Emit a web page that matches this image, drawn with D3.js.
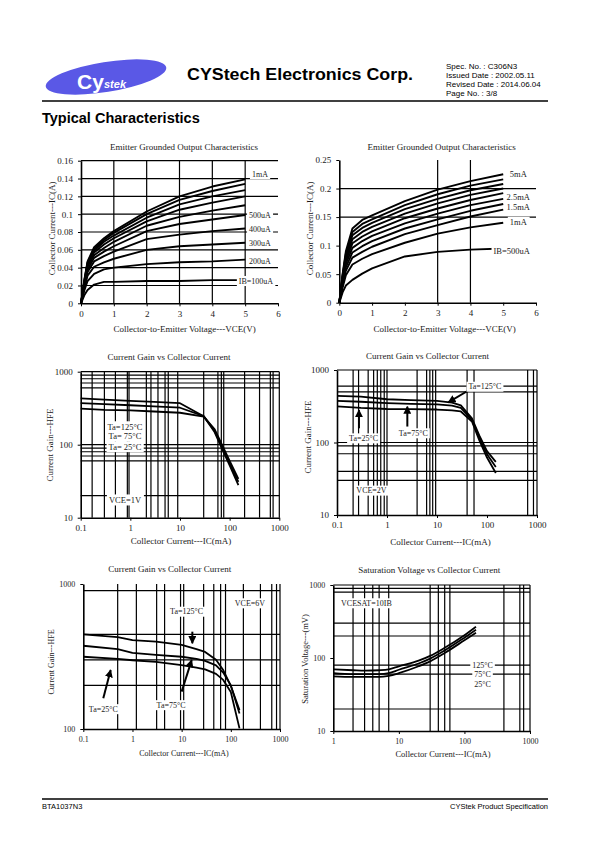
<!DOCTYPE html>
<html><head><meta charset="utf-8">
<script src="https://cdn.jsdelivr.net/npm/d3@7"></script>
<style>
body{margin:0;background:#fff}
svg{display:block}
text{font-family:"Liberation Serif","Times New Roman",serif;fill:#1a1a1a}
.sans{font-family:"Liberation Sans",Arial,sans-serif;fill:#000}
</style>
</head><body>
<svg id="page" width="595" height="842"></svg>
<script>
// ---------------- DATA ----------------
// Chart 1: Emitter grounded output characteristics (IB = 100uA .. 1mA)
const vceOut1 = [0, 0.1, 0.2, 0.4, 0.7, 1, 2, 3, 4, 5];
const ibNames1 = ["100uA","200uA","300uA","400uA","500uA","600uA","700uA","800uA","900uA","1mA"];
const icOut1 = [
 [0,0.009,0.015,0.021,0.024,0.024,0.025,0.025,0.026,0.026],
 [0,0.014,0.025,0.033,0.038,0.040,0.044,0.046,0.047,0.049],
 [0,0.017,0.031,0.041,0.046,0.050,0.060,0.064,0.066,0.068],
 [0,0.019,0.035,0.047,0.053,0.058,0.072,0.077,0.081,0.084],
 [0,0.021,0.038,0.051,0.058,0.064,0.081,0.089,0.094,0.099],
 [0,0.022,0.041,0.054,0.062,0.069,0.087,0.097,0.104,0.110],
 [0,0.023,0.043,0.057,0.066,0.073,0.092,0.105,0.113,0.120],
 [0,0.024,0.045,0.059,0.069,0.076,0.096,0.111,0.120,0.127],
 [0,0.025,0.046,0.061,0.071,0.079,0.100,0.116,0.126,0.134],
 [0,0.026,0.047,0.063,0.073,0.081,0.103,0.120,0.131,0.139]];
const xTicks1 = [0,1,2,3,4,5,6];
const yTicks1 = [0,0.02,0.04,0.06,0.08,0.1,0.12,0.14,0.16];
const gridX1 = [1,2,3,4,5];
const gridY1 = [0.02,0.04,0.06,0.08,0.1,0.12,0.14,0.16];
const labels1 = [
 {t:"1mA",x:5.45,y:0.145},{t:"500uA",x:5.45,y:0.098},{t:"400uA",x:5.45,y:0.083},
 {t:"300uA",x:5.45,y:0.067},{t:"200uA",x:5.45,y:0.047},{t:"IB=100uA",x:5.33,y:0.025}];

// Chart 2: Emitter grounded output characteristics (IB = 500uA .. 5mA)
const vceOut2 = [0, 0.1, 0.2, 0.4, 0.7, 1, 2, 3, 4, 5];
const ibNames2 = ["500uA","1mA","1.5mA","2mA","2.5mA","3mA","3.5mA","4mA","4.5mA","5mA"];
const icOut2 = [
 [0,0.018,0.030,0.040,0.051,0.060,0.081,0.089,0.093,0.095],
 [0,0.026,0.048,0.067,0.077,0.085,0.105,0.121,0.132,0.140],
 [0,0.031,0.056,0.079,0.089,0.098,0.120,0.136,0.151,0.163],
 [0,0.035,0.062,0.088,0.099,0.108,0.130,0.146,0.161,0.173],
 [0,0.038,0.068,0.096,0.108,0.117,0.139,0.156,0.171,0.182],
 [0,0.041,0.073,0.104,0.116,0.125,0.148,0.165,0.180,0.192],
 [0,0.044,0.078,0.111,0.124,0.133,0.156,0.174,0.189,0.200],
 [0,0.046,0.082,0.118,0.131,0.140,0.164,0.182,0.197,0.208],
 [0,0.048,0.086,0.124,0.138,0.146,0.171,0.190,0.205,0.216],
 [0,0.050,0.090,0.130,0.145,0.153,0.178,0.198,0.213,0.225]];
const xTicks2 = [0,1,2,3,4,5,6];
const yTicks2 = [0,0.05,0.1,0.15,0.2,0.25];
const gridX2 = [3,4];
const gridY2 = [0.15,0.2];
const labels2 = [
 {t:"5mA",x:5.46,y:0.225},{t:"2.5mA",x:5.46,y:0.186},{t:"1.5mA",x:5.46,y:0.168},
 {t:"1mA",x:5.46,y:0.141},{t:"IB=500uA",x:5.26,y:0.091}];

// Chart 3: HFE vs IC, VCE=1V
const ic3 = [0.1, 0.3, 1, 3, 10, 30, 50, 70, 100, 150];
const hfe3_125 = [430, 415, 398, 385, 370, 245, 148, 88, 52, 28];
const hfe3_75  = [372, 360, 347, 335, 321, 246, 155, 94, 56, 31];
const hfe3_25  = [313, 300, 296, 285, 274, 243, 162, 100, 60, 34];
const gridX3 = [0.17,0.3,0.5,0.87,0.94,2.1,2.6,3.6,5,5.8,9,30,58,68,76,200,400,660,750,1000];
const gridY3 = [1000,900,800,700,600,100,90,80,70,60,20];
const labels3 = [
 {t:"Ta=125°C",x:0.78,y:176},{t:"Ta= 75°C",x:0.78,y:133},{t:"Ta= 25°C",x:0.78,y:94},
 {t:"VCE=1V",x:0.78,y:17.5}];

// Chart 4: HFE vs IC, VCE=2V
const ic4 = [0.1, 0.3, 1, 3, 10, 20, 30, 50, 70, 100, 150];
const hfe4_125 = [440, 430, 395, 385, 375, 355, 325, 215, 125, 76, 54];
const hfe4_75  = [375, 365, 350, 340, 335, 322, 300, 205, 116, 69, 46];
const hfe4_25  = [315, 300, 290, 288, 285, 278, 268, 195, 108, 62, 38];
const gridX4 = [0.21,0.27,0.42,0.54,0.64,0.75,0.88,1,4,6.2,7.2,8.2,9.4,40,55,650,850,1000];
const gridY4 = [1000,600,500,100,90,70,40,30];
const labels4 = [
 {t:"Ta=125°C",x:91,y:588},{t:"Ta=25°C",x:0.34,y:114},{t:"Ta=75°C",x:3.36,y:134},
 {t:"VCE=2V",x:0.49,y:21.7}];
const arrows4 = [
 {x1:44,y1:530,x2:16.8,y2:358},{x1:0.275,y1:157,x2:0.275,y2:281},{x1:2.55,y1:166,x2:2.55,y2:312}];

// Chart 5: HFE vs IC, VCE=6V
const ic5 = [0.1, 0.5, 1, 3, 10, 20, 30, 50, 70, 100, 150];
const hfe5_125 = [450, 430, 410, 400, 380, 355, 340, 300, 255, 198, 135];
const hfe5_75  = [375, 355, 335, 325, 315, 305, 295, 275, 245, 200, 128];
const hfe5_25  = [315, 305, 298, 290, 276, 265, 258, 240, 218, 180, 101];
const gridX5 = [0.5,1.2,3.1,4.5,9.5,11,28,45,62,78,180,400,680,850,1000];
const gridY5 = [900,450,300,200];
const labels5 = [
 {t:"Ta=125°C",x:12.6,y:644},{t:"VCE=6V",x:245,y:736},{t:"Ta=25°C",x:0.255,y:137},
 {t:"Ta=75°C",x:6.1,y:146}];
const arrows5 = [
 {x1:16.5,y1:469,x2:16.5,y2:390},{x1:0.255,y1:163,x2:0.36,y2:255},{x1:10,y1:181,x2:16,y2:299}];

// Chart 6: VCE(sat) vs IC
const ic6 = [1, 2, 3, 5, 7, 10, 20, 30, 50, 100, 150];
const vsat6_125 = [70, 68, 67, 68, 70, 77, 92, 107, 138, 205, 268];
const vsat6_75  = [62, 60, 60, 60, 62, 69, 84, 98, 127, 190, 243];
const vsat6_25  = [56, 55, 55, 55, 57, 62, 77, 90, 117, 175, 222];
const gridX6 = [2,3,4,5,7,30,40,50,60,400,700,800,1000];
const gridY6 = [1000,900,800,300,200,80,60,20];
const labels6 = [
 {t:"VCESAT=10IB",x:3.2,y:562},{t:"125°C",x:189,y:80},{t:"75°C",x:189,y:60},{t:"25°C",x:189,y:44}];

const logTicksX = [0.1,1,10,100,1000];
const logTicksX6 = [1,10,100,1000];
const logTicksY = [10,100,1000];
const logTicksY5 = [100,1000];

// ---------------- DRAW ----------------
const svg = d3.select("#page");
svg.append("rect").attr("width",595).attr("height",842).attr("fill","#fff");
const defs = svg.append("defs");
defs.append("marker").attr("id","ah").attr("viewBox","0 0 10 10").attr("refX",9).attr("refY",5)
  .attr("markerWidth",4).attr("markerHeight",4).attr("orient","auto")
  .append("path").attr("d","M0,0 L10,5 L0,10 z").attr("fill","#000");

// Header
const logo = svg.append("g");
logo.append("ellipse").attr("cx",106).attr("cy",77).attr("rx",61).attr("ry",15)
  .attr("transform","rotate(-9 106 77)").attr("fill","#5a58e6");
logo.append("text").attr("class","sans").attr("x",77).attr("y",89).attr("font-size",21)
  .attr("font-weight","bold").style("fill","#fff").text("Cy");
logo.append("text").attr("class","sans").attr("x",104).attr("y",88).attr("font-size",11)
  .attr("font-weight","bold").attr("font-style","italic").style("fill","#fff").text("stek");
svg.append("text").attr("class","sans").attr("x",187).attr("y",80).attr("font-size",17)
  .attr("font-weight","bold").attr("textLength",226).attr("lengthAdjust","spacingAndGlyphs")
  .text("CYStech Electronics Corp.");
const specLines = ["Spec. No. : C306N3","Issued Date : 2002.05.11","Revised Date : 2014.06.04","Page No. : 3/8"];
specLines.forEach((s,i)=>svg.append("text").attr("class","sans").attr("x",446).attr("y",68.5+i*9.3)
  .attr("font-size",8).text(s));
svg.append("line").attr("x1",42).attr("x2",548).attr("y1",101).attr("y2",101).attr("stroke","#000").attr("stroke-width",1.3);
svg.append("text").attr("class","sans").attr("x",42).attr("y",123).attr("font-size",14.5)
  .attr("font-weight","bold").text("Typical Characteristics");
svg.append("line").attr("x1",42).attr("x2",548).attr("y1",799).attr("y2",799).attr("stroke","#000").attr("stroke-width",1.3);
svg.append("text").attr("class","sans").attr("x",42).attr("y",809).attr("font-size",7.5).text("BTA1037N3");
svg.append("text").attr("class","sans").attr("x",548).attr("y",809).attr("font-size",7.5)
  .attr("text-anchor","end").text("CYStek Product Specification");

function fmtNum(d){ return String(+d.toFixed(3)); }

function chart(c){
  const g = svg.append("g");
  const x = c.x, y = c.y;
  const [xl, xr] = x.range(), [yb, yt] = y.range();
  // gridlines
  g.selectAll(null).data(c.gridX).enter().append("line")
    .attr("x1",d=>x(d)).attr("x2",d=>x(d)).attr("y1",yb).attr("y2",yt)
    .attr("stroke","#000").attr("stroke-width",1.2);
  g.selectAll(null).data(c.gridY).enter().append("line")
    .attr("x1",xl).attr("x2",xr).attr("y1",d=>y(d)).attr("y2",d=>y(d))
    .attr("stroke","#000").attr("stroke-width",1.2);
  // axes
  const ax = d3.axisBottom(x).tickValues(c.xTicks).tickSize(3).tickSizeOuter(0).tickPadding(4).tickFormat(c.xFmt||fmtNum);
  const ay = d3.axisLeft(y).tickValues(c.yTicks).tickSize(3).tickSizeOuter(0).tickPadding(5).tickFormat(c.yFmt||fmtNum);
  const gx = g.append("g").attr("transform",`translate(0,${yb})`).call(ax);
  const gy = g.append("g").attr("transform",`translate(${xl},0)`).call(ay);
  [gx,gy].forEach(a=>{
    a.attr("font-family",null).attr("font-size",null);
    a.select(".domain").attr("stroke","#000").attr("stroke-width",1.6);
    a.selectAll(".tick line").attr("stroke","#000").attr("stroke-width",1);
    a.selectAll(".tick text").attr("font-size",c.tickFs||9).style("font-family",'"Liberation Serif",serif').style("fill","#1a1a1a");
  });
  // curves
  const line = d3.line().x(d=>x(d[0])).y(d=>y(d[1])).curve(c.curve||d3.curveLinear);
  c.series.forEach(s=>g.append("path").attr("d",line(s)).attr("fill","none")
     .attr("stroke","#000").attr("stroke-width",c.sw||1.9).attr("stroke-linejoin","round"));
  // arrows
  (c.arrows||[]).forEach(a=>g.append("line").attr("x1",x(a.x1)).attr("y1",y(a.y1)).attr("x2",x(a.x2)).attr("y2",y(a.y2))
     .attr("stroke","#000").attr("stroke-width",2).attr("marker-end","url(#ah)"));
  // labels with white boxes
  (c.labels||[]).forEach(l=>{
    const t = g.append("text").attr("x",x(l.x)).attr("y",y(l.y)).attr("text-anchor","middle")
      .attr("dominant-baseline","central").attr("font-size",c.labFs||8).style("white-space","pre").text(l.t);
    const b = t.node().getBBox();
    g.insert("rect",()=>t.node()).attr("x",b.x-2).attr("y",b.y-0.5).attr("width",b.width+4).attr("height",b.height+1).attr("fill","#fff");
  });
  // titles
  g.append("text").attr("x",c.title[1]).attr("y",c.title[2]).attr("text-anchor","middle").attr("dominant-baseline","central")
    .attr("font-size",9).text(c.title[0]);
  g.append("text").attr("x",c.xTitle[1]).attr("y",c.xTitle[2]).attr("text-anchor","middle").attr("dominant-baseline","central")
    .attr("font-size",c.axFs||9).text(c.xTitle[0]);
  g.append("text").attr("transform",`translate(${c.yTitle[1]},${c.yTitle[2]}) rotate(-90)`).attr("text-anchor","middle")
    .attr("dominant-baseline","central").attr("font-size",c.axFs||9).text(c.yTitle[0]);
}

const zipS = (xs, ys) => xs.map((v,i)=>[v, ys[i]]);
const logFmt = d => String(d);

// Chart 1
chart({
  x: d3.scaleLinear().domain([0,6]).range([81,278]),
  y: d3.scaleLinear().domain([0,0.16]).range([303.3,160.7]),
  xTicks: xTicks1, yTicks: yTicks1, gridX: gridX1, gridY: gridY1,
  series: icOut1.map(r=>zipS(vceOut1,r)), labels: labels1, labFs: 8,
  title: ["Emitter Grounded Output Characteristics",184,147.3],
  xTitle: ["Collector-to-Emitter Voltage---VCE(V)",184.7,329.3],
  yTitle: ["Collector Current---IC(A)",51.5,228.3]
});
// Chart 2
chart({
  x: d3.scaleLinear().domain([0,6]).range([339.3,536]),
  y: d3.scaleLinear().domain([0,0.25]).range([302.7,160]),
  xTicks: xTicks2, yTicks: yTicks2, gridX: gridX2, gridY: gridY2,
  series: icOut2.map(r=>zipS(vceOut2,r)), labels: labels2, labFs: 8.5,
  title: ["Emitter Grounded Output Characteristics",441.7,147],
  xTitle: ["Collector-to-Emitter Voltage---VCE(V)",444.7,329],
  yTitle: ["Collector Current---IC(A)",310,228.3]
});
// Chart 3
chart({
  x: d3.scaleLog().domain([0.1,1000]).range([80.7,279.3]),
  y: d3.scaleLog().domain([10,1000]).range([517.7,371.7]),
  xTicks: logTicksX, yTicks: logTicksY, xFmt: logFmt, yFmt: logFmt, gridX: gridX3, gridY: gridY3,
  series: [zipS(ic3,hfe3_125), zipS(ic3,hfe3_75), zipS(ic3,hfe3_25)], labels: labels3, labFs: 8.5, sw: 1.8,
  title: ["Current Gain vs Collector Current",169,357],
  xTitle: ["Collector Current---IC(mA)",181,541],
  yTitle: ["Current Gain---HFE",49.5,445]
});
// Chart 4
chart({
  x: d3.scaleLog().domain([0.1,1000]).range([337,537]),
  y: d3.scaleLog().domain([10,1000]).range([515,370]),
  xTicks: logTicksX, yTicks: logTicksY, xFmt: logFmt, yFmt: logFmt, gridX: gridX4, gridY: gridY4,
  series: [zipS(ic4,hfe4_125), zipS(ic4,hfe4_75), zipS(ic4,hfe4_25)], labels: labels4, arrows: arrows4, labFs: 8, sw: 1.8,
  title: ["Current Gain vs Collector Current",427.5,356],
  xTitle: ["Collector Current---IC(mA)",440.5,541.7],
  yTitle: ["Current Gain---HFE",308,437]
});
// Chart 5
chart({
  x: d3.scaleLog().domain([0.1,1000]).range([83.3,280]),
  y: d3.scaleLog().domain([100,1000]).range([729,584]),
  xTicks: logTicksX, yTicks: logTicksY5, xFmt: logFmt, yFmt: logFmt, gridX: gridX5, gridY: gridY5,
  series: [zipS(ic5,hfe5_125), zipS(ic5,hfe5_75), zipS(ic5,hfe5_25)], labels: labels5, arrows: arrows5,
  labFs: 8, sw: 1.8, tickFs: 8, axFs: 8,
  title: ["Current Gain vs Collector Current",169.7,569.3],
  xTitle: ["Collector Current---IC(mA)",184,753.3],
  yTitle: ["Current Gain---HFE",51,662]
});
// Chart 6
chart({
  x: d3.scaleLog().domain([1,1000]).range([333.3,530]),
  y: d3.scaleLog().domain([10,1000]).range([731,585]),
  xTicks: logTicksX6, yTicks: logTicksY, xFmt: logFmt, yFmt: logFmt, gridX: gridX6, gridY: gridY6,
  series: [zipS(ic6,vsat6_125), zipS(ic6,vsat6_75), zipS(ic6,vsat6_25)], labels: labels6,
  labFs: 8, sw: 1.8, tickFs: 8, axFs: 8.5, curve: d3.curveMonotoneX,
  title: ["Saturation Voltage vs Collector Current",429.3,570],
  xTitle: ["Collector Current---IC(mA)",443,754],
  yTitle: ["Saturation Voltage---(mV)",305,659]
});
</script>
</body></html>
